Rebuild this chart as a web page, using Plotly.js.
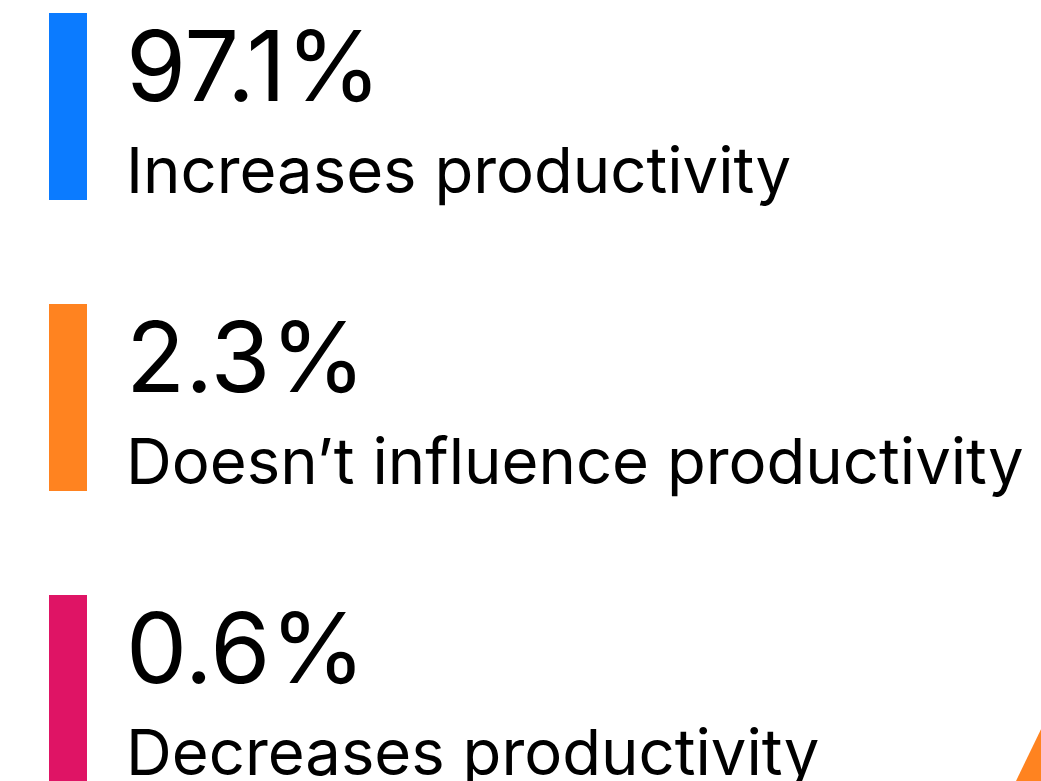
<!DOCTYPE html>
<html>
<head>
<meta charset="utf-8">
<script src="https://cdn.plot.ly/plotly-3.0.1.min.js"></script>
<style>
  html, body { margin: 0; padding: 0; background: #ffffff; }
  #chart { width: 1041px; height: 781px; }
</style>
</head>
<body>
<div id="chart"></div>
<script>
// Data
const categories = ["Increases productivity", "Doesn\u2019t influence productivity", "Decreases productivity"];
const shares = [97.1, 2.3, 0.6];
const valueLabels = ["97.1%", "2.3%", "0.6%"];
const colors = ["#0B7BFF", "#FF8320", "#DF1465"];

const FONT = "Inter, 'Noto Sans', sans-serif";

const stripe = {
  type: "bar",
  orientation: "h",
  y: categories,
  x: categories.map(() => 1),
  base: 0,
  width: 0.643,
  marker: { color: colors, line: { width: 0 } },
  hoverinfo: "skip",
  showlegend: false
};

const annotations = [];
categories.forEach((c, i) => {
  annotations.push({
    xref: "paper", yref: "y", x: 124 / 1041, y: c,
    xanchor: "left", yanchor: "middle", yshift: 41,
    text: valueLabels[i], showarrow: false,
    font: { family: FONT, size: 97, color: "#000000" }
  });
  annotations.push({
    xref: "paper", yref: "y", x: 124 / 1041, y: c,
    xanchor: "left", yanchor: "middle", yshift: -63,
    text: c, showarrow: false,
    font: { family: FONT, size: 63.4, color: "#000000" }
  });
});

const layout = {
  width: 1041, height: 781,
  margin: { l: 0, r: 0, t: 0, b: 0, pad: 0 },
  paper_bgcolor: "#ffffff", plot_bgcolor: "#ffffff",
  showlegend: false,
  xaxis: { range: [-49 / 38, (1041 - 49) / 38], visible: false, fixedrange: true },
  yaxis: {
    type: "category", categoryorder: "array", categoryarray: categories,
    range: [-0.366 + 781 / 291, -0.366], visible: false, fixedrange: true
  },
  annotations: annotations,
  shapes: [{
    type: "path", xref: "paper", yref: "paper",
    path: "M " + (1016 / 1041) + " 0 L " + (1043 / 1041) + " " + (1 - 725 / 781) + " L " + (1070 / 1041) + " 0 Z",
    fillcolor: "#FF8320", line: { width: 0 }, layer: "above"
  }]
};

Plotly.newPlot("chart", [stripe], layout, { staticPlot: true, displayModeBar: false });
</script>
</body>
</html>
